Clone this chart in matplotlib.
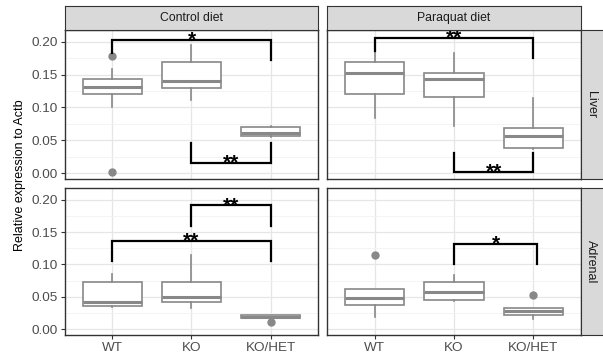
import numpy as np
import matplotlib
matplotlib.use("Agg")
import matplotlib.pyplot as plt

plt.rcParams['font.family'] = ['Liberation Sans', 'DejaVu Sans']

# --- data ---
genotypes = ['WT', 'KO', 'KO/HET']
diets = ['Control diet', 'Paraquat diet']
tissues = ['Liver', 'Adrenal']

# box stats per panel: (whislo, q1, med, q3, whishi)
liver_control = [(0.100, 0.120, 0.131, 0.144, 0.158),
                 (0.111, 0.130, 0.140, 0.170, 0.195),
                 (0.055, 0.056, 0.061, 0.070, 0.072)]
liver_paraquat = [(0.084, 0.120, 0.153, 0.170, 0.206),
                  (0.072, 0.116, 0.144, 0.153, 0.183),
                  (0.037, 0.038, 0.056, 0.069, 0.114)]
adrenal_control = [(0.035, 0.0355, 0.0415, 0.0725, 0.085),
                   (0.033, 0.0426, 0.049, 0.0725, 0.115),
                   (0.0165, 0.0167, 0.019, 0.0217, 0.022)]
adrenal_paraquat = [(0.0187, 0.037, 0.0476, 0.0619, 0.062),
                    (0.043, 0.0456, 0.0567, 0.0734, 0.0836),
                    (0.015, 0.0217, 0.0278, 0.0324, 0.033)]

fliers_liver_control = [[0.179, 0.0015], [], []]
fliers_liver_paraquat = [[], [], []]
fliers_adrenal_control = [[], [], [0.011]]
fliers_adrenal_paraquat = [[0.114], [], [0.052]]

# brackets: (x1, x2, y, left tip end, right tip end, label)
brk_liver_control = [(1, 3, 0.203, 0.183, 0.172, '*'),
                     (2, 3, 0.016, 0.0465, 0.0465, '**')]
brk_liver_paraquat = [(1, 3, 0.206, 0.186, 0.176, '**'),
                      (2, 3, 0.0015, 0.030, 0.030, '**')]
brk_adrenal_control = [(2, 3, 0.191, 0.160, 0.160, '**'),
                       (1, 3, 0.1357, 0.106, 0.106, '**')]
brk_adrenal_paraquat = [(2, 3.05, 0.132, 0.101, 0.101, '*')]

panels = [
    [(liver_control, fliers_liver_control, brk_liver_control),
     (liver_paraquat, fliers_liver_paraquat, brk_liver_paraquat)],
    [(adrenal_control, fliers_adrenal_control, brk_adrenal_control),
     (adrenal_paraquat, fliers_adrenal_paraquat, brk_adrenal_paraquat)],
]

yticks = [0.00, 0.05, 0.10, 0.15, 0.20]
ylim = (-0.009, 0.218)

# --- layout (pixels) ---
W, H = 603, 356
fig = plt.figure(figsize=(W / 100, H / 100), dpi=100)
col_x = [(65, 318), (327, 581)]
row_y = [(30, 179), (188, 335)]

box_col = '#888888'
border = '#333333'
grid_major = '#e6e6e6'
grid_minor = '#f2f2f2'


def rect(x0, x1, y0, y1):
    return [x0 / W, 1 - y1 / H, (x1 - x0) / W, (y1 - y0) / H]


for r in range(2):
    for c in range(2):
        stats, fliers, brks = panels[r][c]
        ax = fig.add_axes(rect(col_x[c][0], col_x[c][1], row_y[r][0], row_y[r][1]))

        bstats = []
        for i, (lo, q1, med, q3, hi) in enumerate(stats):
            bstats.append(dict(whislo=lo, q1=q1, med=med, q3=q3, whishi=hi,
                               fliers=fliers[i]))
        ax.bxp(bstats, positions=[1, 2, 3], widths=0.75, showcaps=False,
               patch_artist=True, manage_ticks=False,
               boxprops=dict(facecolor='white', edgecolor=box_col, lw=1.2),
               medianprops=dict(color=box_col, lw=2.2),
               whiskerprops=dict(color=box_col, lw=1.2),
               flierprops=dict(marker='o', markerfacecolor=box_col,
                               markeredgecolor=box_col, markersize=5))

        for x1, x2, y, t1, t2, lab in brks:
            ax.plot([x1, x1, x2, x2], [t1, y, y, t2], color='black', lw=1.6,
                    solid_joinstyle='miter', zorder=5)
            ax.annotate(lab, ((x1 + x2) / 2, y), xytext=(0, -4),
                        textcoords='offset points', ha='center', va='baseline',
                        fontsize=15, fontweight='bold', color='black',
                        zorder=6, annotation_clip=False, clip_on=True)

        ax.set_xlim(0.4, 3.6)
        ax.set_ylim(*ylim)
        ax.set_yticks(yticks)
        ax.set_yticks([0.025, 0.075, 0.125, 0.175], minor=True)
        ax.set_xticks([1, 2, 3])
        ax.grid(True, which='major', color=grid_major, lw=0.9, zorder=0)
        ax.grid(True, which='minor', axis='y', color=grid_minor, lw=0.6, zorder=0)
        ax.set_axisbelow(True)
        for s in ax.spines.values():
            s.set_color(border)
            s.set_linewidth(1.0)

        ax.tick_params(axis='both', which='major', length=3, color=border,
                       labelsize=9.7, labelcolor='#4d4d4d')
        ax.tick_params(which='minor', length=0)
        if c == 0:
            ax.set_yticklabels(['%.2f' % v for v in yticks])
        else:
            ax.tick_params(axis='y', length=0, labelleft=False)
        if r == 1:
            ax.set_xticklabels(genotypes)
        else:
            ax.tick_params(axis='x', length=0, labelbottom=False)
        ax.tick_params(axis='x', pad=2)
        ax.tick_params(axis='y', pad=2)

# strips
for c in range(2):
    sax = fig.add_axes(rect(col_x[c][0], col_x[c][1], 6, 30))
    sax.set_facecolor('#d9d9d9')
    sax.set_xticks([])
    sax.set_yticks([])
    for s in sax.spines.values():
        s.set_color(border)
    sax.text(0.5, 0.5, diets[c], ha='center', va='center', fontsize=8.8,
             color='#1a1a1a', transform=sax.transAxes)

for r in range(2):
    sax = fig.add_axes(rect(581, 604, row_y[r][0], row_y[r][1]))
    sax.set_facecolor('#d9d9d9')
    sax.set_xticks([])
    sax.set_yticks([])
    for s in sax.spines.values():
        s.set_color(border)
    sax.text(0.42, 0.5, tissues[r], ha='center', va='center', fontsize=9,
             color='#1a1a1a', rotation=-90, transform=sax.transAxes)

fig.text(20 / W, 1 - 175 / H, 'Relative expression to Actb', rotation=90,
         ha='center', va='center', fontsize=9, color='black')

fig.savefig('out.png', dpi=100)
